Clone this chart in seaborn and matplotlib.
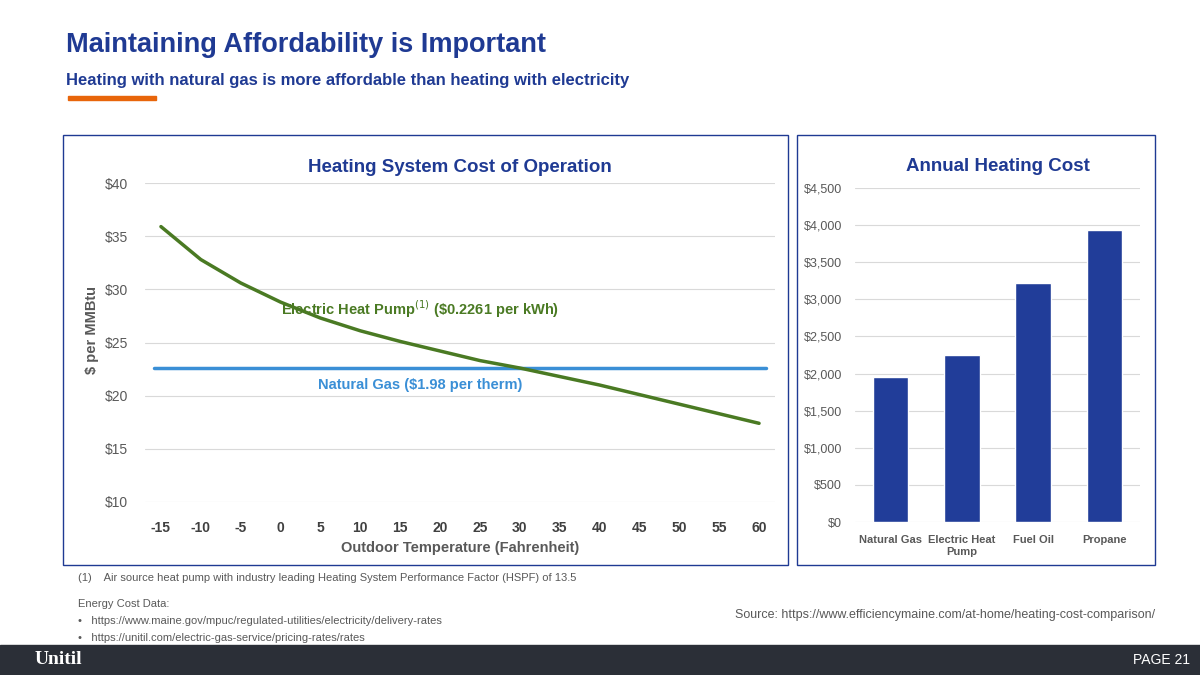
import matplotlib
matplotlib.use("Agg")
import matplotlib.pyplot as plt
import seaborn as sns
import pandas as pd
from matplotlib.patches import Rectangle

temps = [-15, -10, -5, 0, 5, 10, 15, 20, 25, 30, 35, 40, 45, 50, 55, 60]
heat_pump = [35.9, 32.8, 30.6, 28.8, 27.3, 26.1, 25.1, 24.2, 23.3, 22.6, 21.8, 21.0, 20.1, 19.2, 18.3, 17.4]
gas_cost = 22.6
fuels = ["Natural Gas", "Electric Heat\nPump", "Fuel Oil", "Propane"]
annual = [1960, 2250, 3220, 3935]

sns.set_theme(style="white")
plt.rcParams['font.family'] = ['Liberation Sans', 'DejaVu Sans']
W, H = 1200, 675
fig = plt.figure(figsize=(12, 6.75), dpi=100)
navy = "#1f3a93"

def ax_rect(x0, y0, x1, y1):
    return [x0 / W, 1 - y1 / H, (x1 - x0) / W, (y1 - y0) / H]

fig.text(66 / W, 1 - 45 / H, "Maintaining Affordability is Important", color=navy,
         fontsize=19.5, fontweight="bold", va="center")
fig.text(66 / W, 1 - 80 / H, "Heating with natural gas is more affordable than heating with electricity",
         color=navy, fontsize=12, fontweight="bold", va="center")
fig.add_artist(Rectangle((68 / W, 1 - 100 / H), 88 / W, 4 / H, color="#e8650a", transform=fig.transFigure))
for (x0, x1) in [(63, 788), (797, 1155)]:
    fig.add_artist(Rectangle((x0 / W, 1 - 565 / H), (x1 - x0) / W, 430 / H, fill=False,
                             edgecolor=navy, lw=1, transform=fig.transFigure))

# Left chart
ax = fig.add_axes(ax_rect(145, 183, 775, 502))
df = pd.DataFrame({"t": temps, "v": heat_pump})
ax.axhline(gas_cost, xmin=0.015, xmax=0.985, color="#3a8fd6", lw=2.5)
sns.lineplot(data=df, x="t", y="v", ax=ax, color="#4a7a23", lw=2.5)
ax.set_xlim(-17, 62)
ax.set_ylim(10, 40)
ax.set_xticks(temps)
ax.set_xticklabels([str(t) for t in temps], fontweight="bold", fontsize=10, color="#404040")
ax.set_yticks([10, 15, 20, 25, 30, 35, 40])
ax.set_yticklabels([f"${v}" for v in [10, 15, 20, 25, 30, 35, 40]], fontsize=10, color="#595959")
ax.grid(axis="y", color="#d9d9d9", lw=0.8)
for s in ax.spines.values():
    s.set_visible(False)
ax.tick_params(axis="y", pad=6)
ax.tick_params(axis="x", pad=8)
ax.set_xlabel("Outdoor Temperature (Fahrenheit)", fontsize=10.5, fontweight="bold", color="#595959")
ax.set_ylabel("")
fig.text(92 / W, 1 - 330 / H, "$ per MMBtu", rotation=90, fontsize=10.5, fontweight="bold",
         color="#595959", va="center", ha="center")
ax.set_title("Heating System Cost of Operation", fontsize=13.5, fontweight="bold", color=navy, pad=8)
ax.text(17.5, 28.1, r"Electric Heat Pump$^{(1)}$ (\$0.2261 per kWh)",
        color="#4a7a23", fontsize=10.5, fontweight="bold", ha="center", va="center")
ax.text(17.5, 21.0, "Natural Gas ($1.98 per therm)", color="#3a8fd6", fontsize=10.5,
        fontweight="bold", ha="center", va="center")

# Right chart
ax2 = fig.add_axes(ax_rect(855, 188, 1140, 522))
sns.barplot(x=fuels, y=annual, ax=ax2, color="#213d99", width=0.5, saturation=1)
ax2.set_ylim(0, 4500)
ax2.set_yticks(range(0, 4501, 500))
ax2.set_yticklabels([f"${v:,}" for v in range(0, 4501, 500)], fontsize=9, color="#595959")
ax2.tick_params(axis="x", labelsize=8, labelcolor="#595959")
for lbl in ax2.get_xticklabels():
    lbl.set_fontweight("bold")
ax2.grid(axis="y", color="#d9d9d9", lw=0.8)
ax2.set_axisbelow(True)
for s in ax2.spines.values():
    s.set_visible(False)
ax2.set_title("Annual Heating Cost", fontsize=13.5, fontweight="bold", color=navy, pad=12)

# Footnotes
fig.text(78 / W, 1 - 578 / H, "(1)    Air source heat pump with industry leading Heating System Performance Factor (HSPF) of 13.5",
         fontsize=8, color="#595959", va="center")
fig.text(78 / W, 1 - 604 / H, "Energy Cost Data:", fontsize=8, color="#595959", va="center")
fig.text(78 / W, 1 - 621 / H, "•   https://www.maine.gov/mpuc/regulated-utilities/electricity/delivery-rates",
         fontsize=8, color="#595959", va="center")
fig.text(78 / W, 1 - 638 / H, "•   https://unitil.com/electric-gas-service/pricing-rates/rates",
         fontsize=8, color="#595959", va="center")
fig.text(1155 / W, 1 - 615 / H, "Source: https://www.efficiencymaine.com/at-home/heating-cost-comparison/",
         fontsize=9, color="#595959", va="center", ha="right")

fig.add_artist(Rectangle((0, 0), 1, 30 / H, color="#2b2f37", transform=fig.transFigure))
fig.text(35 / W, 15 / H, "Unitil", fontsize=14, fontweight="bold", color="white", va="center",
         family=["Liberation Serif", "DejaVu Serif"])
fig.text(1190 / W, 15 / H, "PAGE 21", fontsize=10, color="white", va="center", ha="right")

fig.savefig("out.png", dpi=100)
